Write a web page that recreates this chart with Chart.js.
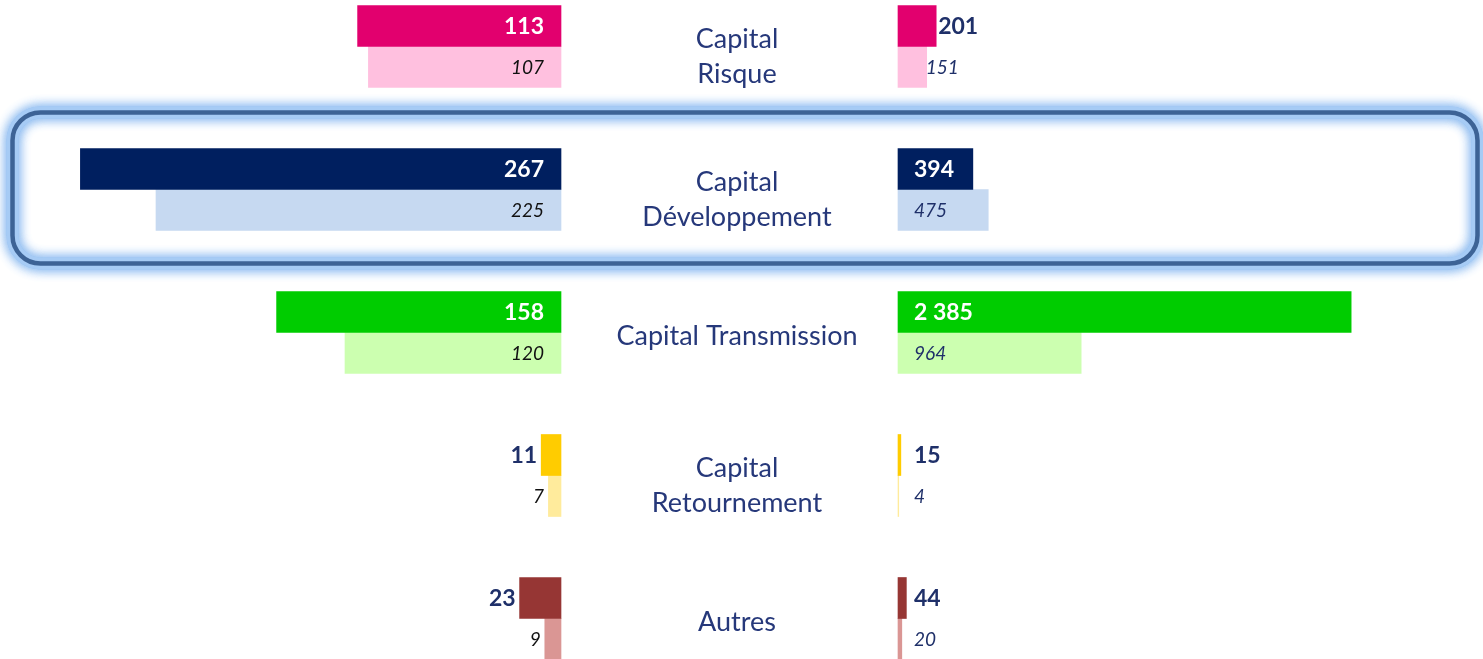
<!DOCTYPE html>
<html>
<head>
<meta charset="utf-8">
<script src="https://cdn.jsdelivr.net/npm/chart.js@4/dist/chart.umd.min.js"></script>
<style>
  html, body { margin: 0; padding: 0; background: #fff; overflow: hidden; }
  #wrap { position: relative; width: 1483px; height: 659px; overflow: hidden; }
  #chart { position: absolute; left: 0; top: -25px; }
</style>
</head>
<body>
<div id="wrap">
  <canvas id="chart" width="1483" height="715"></canvas>
</div>
<script>
// Data
const categories = [
  ["Capital", "Risque"],
  ["Capital", "Développement"],
  ["Capital Transmission"],
  ["Capital", "Retournement"],
  ["Autres"],
];
const leftCurrent = [113, 267, 158, 11, 23];
const leftPrevious = [107, 225, 120, 7, 9];
const rightCurrent = [201, 394, 2385, 15, 44];
const rightPrevious = [151, 475, 964, 4, 20];

const darkColors = ["#e2006e", "#001f5f", "#00cc00", "#ffcc00", "#963634"];
const lightColors = ["#ffc0df", "#c6d9f1", "#ccffb0", "#ffeb9c", "#da9694"];
const highlightIndex = 1;

const navy = "#1f3069";
const labelColor = "#26387a";
const fontFamily = "Lato, 'Open Sans', sans-serif";

function fmt(v) {
  return String(v).replace(/\B(?=(\d{3})+(?!\d))/g, " ");
}

// Highlight box round one category
const highlightBox = {
  id: "highlightBox",
  beforeDatasetsDraw(chart) {
    const ctx = chart.ctx;
    const yc = chart.scales.y.getPixelForValue(highlightIndex);
    const x = 12.5, w = 1465, y = yc - 77, h = 151, r = 28;
    ctx.save();
    ctx.beginPath();
    ctx.roundRect(x, y, w, h, r);
    ctx.shadowColor = "#8fbcf0";
    ctx.shadowBlur = 12;
    ctx.lineWidth = 12;
    ctx.strokeStyle = "#a6cbf5";
    ctx.stroke();
    ctx.stroke();
    ctx.shadowBlur = 0;
    ctx.lineWidth = 4.5;
    ctx.strokeStyle = "#3d6396";
    ctx.stroke();
    ctx.restore();
  },
};

// Value labels and category names
const labels = {
  id: "labels",
  afterDatasetsDraw(chart) {
    const ctx = chart.ctx;
    ctx.save();
    chart.data.datasets.forEach((ds, di) => {
      const meta = chart.getDatasetMeta(di);
      const dark = ds.stack === "dark";
      const size = dark ? 23 : 19;
      ctx.font = (dark ? "bold " : "italic ") + size + "px " + fontFamily;
      meta.data.forEach((el, i) => {
        const text = fmt(ds.data[i]);
        const yy = el.y + size * 0.36;
        const width = Math.abs(el.x - el.base);
        let color, tx;
        if (ds.side === "left") {
          ctx.textAlign = "right";
          if (width >= 60) {
            tx = el.base - 17;
            color = dark ? "#fff" : "#111";
          } else {
            tx = Math.min(el.base - 17, el.x - 4);
            color = dark ? navy : "#111";
          }
        } else {
          ctx.textAlign = "left";
          if (width >= 60) {
            tx = el.base + 16;
            color = dark ? "#fff" : navy;
          } else if (el.x > el.base + 16) {
            tx = el.x + (dark ? 2 : -1);
            color = navy;
          } else {
            tx = el.base + 16;
            color = navy;
          }
        }
        ctx.fillStyle = color;
        ctx.textBaseline = "alphabetic";
        ctx.fillText(text, tx, yy);
      });
    });

    // category names in the middle
    const yScale = chart.scales.y;
    const cx = (chart.scales.xl.getPixelForValue(0) + chart.scales.xr.getPixelForValue(0)) / 2 + 7.5;
    ctx.font = "27px " + fontFamily;
    ctx.fillStyle = labelColor;
    ctx.textAlign = "center";
    ctx.textBaseline = "alphabetic";
    categories.forEach((lines, i) => {
      const yc = yScale.getPixelForValue(i);
      const lh = 35;
      const mid = lines.length > 1 ? yc + 9 : yc + 3;
      lines.forEach((line, k) => {
        const capMid = mid + (k - (lines.length - 1) / 2) * lh;
        ctx.fillText(line, cx, capMid + 9.5);
      });
    });
    ctx.restore();
  },
};

const ctx = document.getElementById("chart").getContext("2d");
const chart = new Chart(ctx, {
  type: "bar",
  data: {
    labels: categories.map((c) => c.join(" ")),
    datasets: [
      { side: "left", stack: "dark", xAxisID: "xl", data: leftCurrent, backgroundColor: darkColors },
      { side: "left", stack: "light", xAxisID: "xl", data: leftPrevious, backgroundColor: lightColors },
      { side: "right", stack: "dark", xAxisID: "xr", data: rightCurrent, backgroundColor: darkColors },
      { side: "right", stack: "light", xAxisID: "xr", data: rightPrevious, backgroundColor: lightColors },
    ],
  },
  options: {
    indexAxis: "y",
    responsive: false,
    animation: false,
    devicePixelRatio: 1,
    layout: { padding: 0 },
    datasets: { bar: { barThickness: 41, borderWidth: 0 } },
    scales: {
      y: { display: false },
      // left side: 0 at x=561, 1.8 px per unit, growing leftwards
      xl: { type: "linear", display: false, reverse: true, min: -(1483 - 561) / 1.8, max: 561 / 1.8 },
      // right side: 0 at x=898, 0.19 px per unit
      xr: { type: "linear", display: false, min: -898 / 0.19, max: (1483 - 898) / 0.19 },
    },
    plugins: {
      legend: { display: false },
      tooltip: { enabled: false },
    },
  },
  plugins: [highlightBox, labels],
});
</script>
</body>
</html>
